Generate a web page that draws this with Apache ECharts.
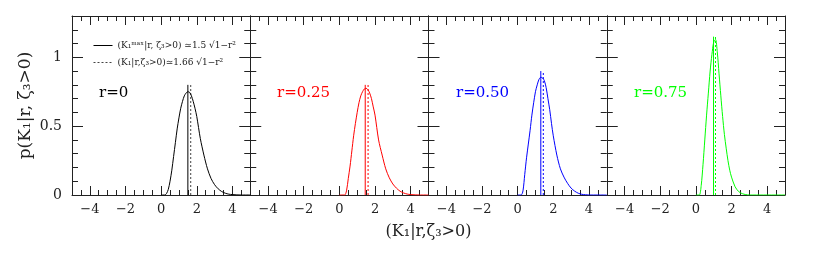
<!DOCTYPE html>
<html><head><meta charset="utf-8">
<script src="https://cdn.jsdelivr.net/npm/echarts@6/dist/echarts.min.js"></script>
<style>html,body{margin:0;padding:0;background:#fff}#c{width:830px;height:258px}</style>
</head><body><div id="c"></div>
<script>
// ---- data ----
const xGrid = [0,0.1,0.2,0.3,0.4,0.5,0.6,0.7,0.8,0.9,1.0,1.1,1.2,1.3,1.4,1.5,1.6,1.7,1.8,1.9,2.0,2.2,2.4,2.6,2.8,3.0,3.2,3.4,3.6,3.8,4.0,4.5,5.0];
const pR000 = [0,0,0,0.01,0.04,0.10,0.18,0.28,0.38,0.48,0.56,0.63,0.68,0.72,0.74,0.75,0.745,0.72,0.68,0.63,0.57,0.41,0.29,0.19,0.12,0.075,0.045,0.025,0.013,0.006,0.003,0,0];
const pR025 = [0,0,0,0,0.03,0.12,0.21,0.32,0.43,0.52,0.60,0.67,0.72,0.75,0.77,0.775,0.765,0.74,0.70,0.64,0.58,0.40,0.29,0.19,0.125,0.08,0.05,0.028,0.015,0.007,0.003,0,0];
const pR050 = [0,0,0,0.03,0.15,0.27,0.37,0.47,0.58,0.67,0.75,0.80,0.84,0.855,0.85,0.83,0.78,0.70,0.62,0.52,0.43,0.29,0.19,0.13,0.085,0.05,0.028,0.013,0.005,0.002,0,0,0];
const pR075 = [0,0,0,0.07,0.22,0.40,0.58,0.74,0.90,1.02,1.11,1.13,1.04,0.88,0.72,0.57,0.44,0.34,0.25,0.18,0.13,0.06,0.025,0.01,0.003,0,0,0,0,0,0,0,0];
const curves = [pR000, pR025, pR050, pR075];
const rLabels = ['r=0','r=0.25','r=0.50','r=0.75'];
const peakK = [1.50,1.45,1.30,0.99];   // (K1max|r) ~ 1.5 sqrt(1-r^2)
const meanK = [1.66,1.61,1.44,1.10];   // <K1|r> ~ 1.66 sqrt(1-r^2)
const markTop = [0.80,0.80,0.90,1.15];
const xTicks = [-4,-2,0,2,4];
const yTicks = [0,0.5,1];
const legendNames = ['(K\u2081\u1D50\u1D43\u02E3|r, \u03B6\u2083>0) \u22431.5 \u221A1\u2212r\u00B2', '(K\u2081|r,\u03B6\u2083>0)\u22431.66 \u221A1\u2212r\u00B2'];
const yTitle = 'p(K\u2081|r, \u03B6\u2083>0)';
const xTitle = '(K\u2081|r,\u03B6\u2083>0)';

// ---- style ----
const colors = ['#000000','#ff0000','#0000ff','#00ff00'];
const FONT = 'DejaVu Serif';
const AX = '#222';
const L0 = 72, W = 178.25, TOP = 16, H = 179;
const fmt = v => v < 0 ? '\u2212' + (-v) : String(v);

const grids = [], xAxes = [], yAxes = [], series = [], graphics = [];
const lineOn = {show:true,onZero:false,lineStyle:{color:AX,width:1}};
const lineOff = {show:false,onZero:false};
for (let g = 0; g < 4; g++) {
  grids.push({left: L0 + g * W, top: TOP, width: W, height: H});
  const baseX = {type:'value', gridIndex:g, min:-5, max:5, splitLine:{show:false}};
  xAxes.push(Object.assign({}, baseX, {position:'bottom', axisLine:lineOn,
    axisTick:{show:true,inside:true,length:9,customValues:xTicks,lineStyle:{color:AX}},
    axisLabel:{show:true,customValues:xTicks,formatter:fmt,fontFamily:FONT,fontSize:13,color:'#222',margin:8}}));
  xAxes.push(Object.assign({}, baseX, {position:'bottom', interval:0.5, axisLine:lineOff,
    axisTick:{show:true,inside:true,length:5,lineStyle:{color:AX}}, axisLabel:{show:false}}));
  xAxes.push(Object.assign({}, baseX, {position:'top', axisLine:lineOn,
    axisTick:{show:true,inside:true,length:9,customValues:xTicks,lineStyle:{color:AX}}, axisLabel:{show:false}}));
  xAxes.push(Object.assign({}, baseX, {position:'top', interval:0.5, axisLine:lineOff,
    axisTick:{show:true,inside:true,length:5,lineStyle:{color:AX}}, axisLabel:{show:false}}));

  const baseY = {type:'value', gridIndex:g, min:0, max:1.3, splitLine:{show:false}};
  yAxes.push(Object.assign({}, baseY, {position:'left', axisLine:lineOn,
    axisTick:{show:true,inside:true,length:11,customValues:yTicks,lineStyle:{color:AX}},
    axisLabel:{show:g===0,customValues:yTicks,fontFamily:FONT,fontSize:14,color:'#222',margin:10},
    name: g===0 ? yTitle : '', nameLocation:'middle', nameGap:38, nameRotate:90,
    nameTextStyle:{fontFamily:FONT,fontSize:17,color:'#222'}}));
  yAxes.push(Object.assign({}, baseY, {position:'left', interval:0.1, axisLine:lineOff,
    axisTick:{show:true,inside:true,length:6,lineStyle:{color:AX}}, axisLabel:{show:false}}));
  yAxes.push(Object.assign({}, baseY, {position:'right', axisLine:lineOn,
    axisTick:{show:true,inside:true,length:11,customValues:yTicks,lineStyle:{color:AX}}, axisLabel:{show:false}}));
  yAxes.push(Object.assign({}, baseY, {position:'right', interval:0.1, axisLine:lineOff,
    axisTick:{show:true,inside:true,length:6,lineStyle:{color:AX}}, axisLabel:{show:false}}));

  const xi = 4 * g, yi = 4 * g;
  series.push({type:'line', xAxisIndex:xi, yAxisIndex:yi, showSymbol:false, symbol:'none',
    smooth:0.3, silent:true, z:3,
    lineStyle:{color:colors[g], width:1},
    data: xGrid.map((x, i) => [x, curves[g][i]])});
  series.push({type:'line', name: g===0 ? legendNames[0] : 'peak' + g, xAxisIndex:xi, yAxisIndex:yi,
    symbol:'none', silent:true, z:2, color:colors[g],
    lineStyle:{color:colors[g], width:1},
    data:[[peakK[g], 0], [peakK[g], markTop[g]]]});
  series.push({type:'line', name: g===0 ? legendNames[1] : 'mean' + g, xAxisIndex:xi, yAxisIndex:yi,
    symbol:'none', silent:true, z:2, color: g===0 ? '#444' : colors[g],
    lineStyle:{color: g===0 ? '#444' : colors[g], width:1, type:[2,2]},
    data:[[meanK[g], 0], [meanK[g], markTop[g]]]});

  graphics.push({type:'text', left: [99, 277, 456, 634][g], top: 86,
    style:{text: rLabels[g], fill: colors[g], font: '15px "' + FONT + '"'}});
}
graphics.push({type:'text', x: L0 + 2 * W, y: 232,
  style:{text: xTitle, fill:'#222', font:'16px "' + FONT + '"', textAlign:'center', textVerticalAlign:'middle'}});

const chart = echarts.init(document.getElementById('c'), null, {renderer:'canvas'});
chart.setOption({
  animation:false,
  backgroundColor:'#fff',
  grid: grids, xAxis: xAxes, yAxis: yAxes, series: series,
  legend:{data: legendNames, left: 88, top: 36, orient:'vertical', itemWidth:19, itemHeight:10, itemGap:8,
    itemStyle:{opacity:0, borderWidth:0}, lineStyle:{width:1},
    textStyle:{fontFamily:FONT, fontSize:9, color:'#222'}, selectedMode:false},
  graphic: graphics
});
</script></body></html>
